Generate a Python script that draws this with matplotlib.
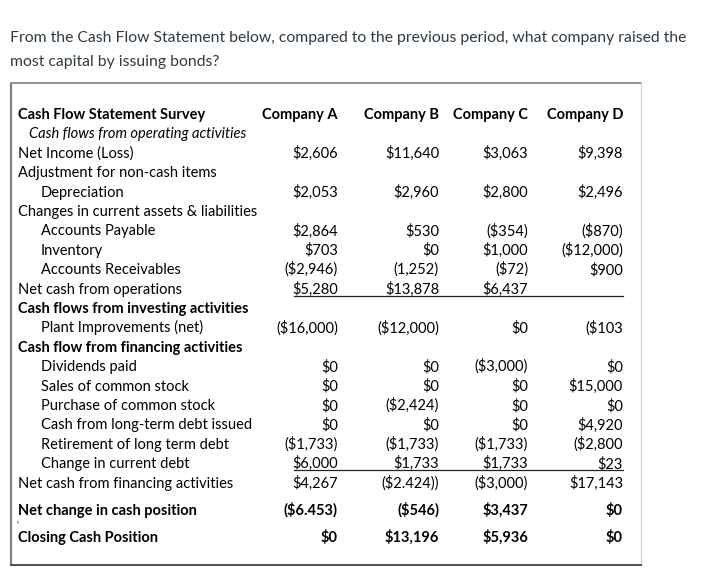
import matplotlib.pyplot as plt

question = ["From the Cash Flow Statement below, compared to the previous period, what company raised the",
            "most capital by issuing bonds?"]

companies = ['Company A', 'Company B', 'Company C', 'Company D']

# label, style ('b' bold, 'i' italic, 'n' normal), indent level
rows = [
    ('Cash flows from operating activities', 'i', 1),
    ('Net Income (Loss)', 'n', 0),
    ('Adjustment for non-cash items', 'n', 0),
    ('Depreciation', 'n', 2),
    ('Changes in current assets & liabilities', 'n', 0),
    ('Accounts Payable', 'n', 2),
    ('Inventory', 'n', 2),
    ('Accounts Receivables', 'n', 2),
    ('Net cash from operations', 'n', 0),
    ('Cash flows from investing activities', 'b', 0),
    ('Plant Improvements (net)', 'n', 2),
    ('Cash flow from financing activities', 'b', 0),
    ('Dividends paid', 'n', 2),
    ('Sales of common stock', 'n', 2),
    ('Purchase of common stock', 'n', 2),
    ('Cash from long-term debt issued', 'n', 2),
    ('Retirement of long term debt', 'n', 2),
    ('Change in current debt', 'n', 2),
    ('Net cash from financing activities', 'n', 0),
    ('Net change in cash position', 'b', 0),
    ('Closing Cash Position', 'b', 0),
]

company_a = ['', '$2,606', '', '$2,053', '', '$2,864', '$703', '($2,946)', '$5,280', '', '($16,000)', '',
             '$0', '$0', '$0', '$0', '($1,733)', '$6,000', '$4,267', '($6.453)', '$0']
company_b = ['', '$11,640', '', '$2,960', '', '$530', '$0', '(1,252)', '$13,878', '', '($12,000)', '',
             '$0', '$0', '($2,424)', '$0', '($1,733)', '$1,733', '($2.424))', '($546)', '$13,196']
company_c = ['', '$3,063', '', '$2,800', '', '($354)', '$1,000', '($72)', '$6,437', '', '$0', '',
             '($3,000)', '$0', '$0', '$0', '($1,733)', '$1,733', '($3,000)', '$3,437', '$5,936']
company_d = ['', '$9,398', '', '$2,496', '', '($870)', '($12,000)', '$900', '', '', '($103', '',
             '$0', '$15,000', '$0', '$4,920', '($2,800', '$23', '$17,143', '$0', '$0']

values = [company_a, company_b, company_c, company_d]
underline_after = ['Net cash from operations', 'Change in current debt']

W, H = 704, 587
fig = plt.figure(figsize=(W / 100, H / 100), dpi=100)
ax = fig.add_axes([0, 0, 1, 1])
ax.set_xlim(0, W)
ax.set_ylim(H, 0)
ax.axis('off')

font = 'Lato'
qcolor = '#2d3b45'
ax.text(10, 42, question[0], fontsize=11.35, family=font, color=qcolor, va='baseline')
ax.text(10, 66, question[1], fontsize=11.35, family=font, color=qcolor, va='baseline')

# box round the table
box_l, box_t, box_r, box_b = 11, 83, 641, 565
ax.plot([box_l, box_l], [box_t, box_b], color='#808080', lw=1.6, solid_capstyle='butt')
ax.plot([box_l, box_r], [box_t, box_t], color='#8a8a8a', lw=1.3)
ax.plot([box_r, box_r], [box_t, box_b], color='#d4d4d4', lw=1.0)
ax.plot([box_l, box_r], [box_b, box_b], color='#404040', lw=1.3)

fs = 10.5
tcolor = '#000000'
col_right = [338, 439, 528, 623]
label_x = {0: 18, 1: 29, 2: 41}
base = 5  # baseline offset below the row centre

# header
head_y = 114
ax.text(18, head_y + base, 'Cash Flow Statement Survey', fontsize=fs, family=font, weight='bold',
        color=tcolor, va='baseline')
for name, xr in zip(companies, col_right):
    ax.text(xr, head_y + base, name, fontsize=fs, family=font, weight='bold', color=tcolor,
            va='baseline', ha='right')

step = 19.4
row_y = []
for i in range(len(rows)):
    y = head_y + step * (i + 1)
    if i >= 19:
        y = 482.6 + 27 * (i - 18)
    row_y.append(y)

for i, (label, style, indent) in enumerate(rows):
    y = row_y[i] + base
    weight = 'bold' if style == 'b' else 'normal'
    fstyle = 'italic' if style == 'i' else 'normal'
    ax.text(label_x[indent], y, label, fontsize=fs, family=font, weight=weight,
            style=fstyle, color=tcolor, va='baseline')
    for col, xr in zip(values, col_right):
        if col[i]:
            ax.text(xr, y, col[i], fontsize=fs, family=font, weight=weight,
                    color=tcolor, va='baseline', ha='right')
    if label in underline_after:
        ax.plot([294, 623], [y + 2, y + 2], color='#222222', lw=0.9)

# stray mark left of the closing row
ax.text(18.5, 522, 'y', fontsize=3, family=font, color=tcolor, va='center', ha='center')

fig.savefig('out.png', dpi=100)
